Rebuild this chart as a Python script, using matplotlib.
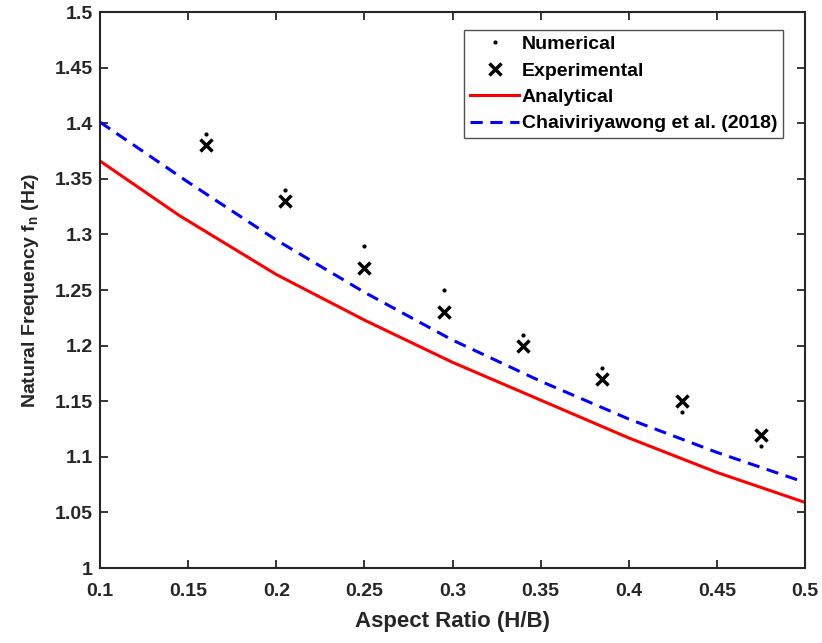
import matplotlib.pyplot as plt

plt.rcParams['font.family'] = ['Liberation Sans', 'DejaVu Sans']
plt.rcParams['font.weight'] = 'bold'
plt.rcParams['mathtext.default'] = 'regular'

# aspect ratios of the test points
ratio = [0.16, 0.205, 0.25, 0.295, 0.34, 0.385, 0.43, 0.475]
numerical = [1.39, 1.34, 1.29, 1.25, 1.21, 1.18, 1.14, 1.11]
experimental = [1.38, 1.33, 1.27, 1.23, 1.20, 1.17, 1.15, 1.12]

# analytical curve
ana_x = [0.1, 0.145, 0.2, 0.25, 0.3, 0.35, 0.4, 0.45, 0.5]
ana_y = [1.366, 1.317, 1.264, 1.223, 1.185, 1.151, 1.117, 1.086, 1.059]

# Chaiviriyawong et al. (2018)
ch_x = [0.1, 0.15, 0.2, 0.25, 0.3, 0.35, 0.4, 0.45, 0.5]
ch_y = [1.401, 1.347, 1.295, 1.248, 1.205, 1.168, 1.134, 1.104, 1.077]

dark = '#262626'

fig = plt.figure(figsize=(8.22, 6.43), dpi=100)
ax = fig.add_axes([0.1217, 0.1166, 0.8576, 0.8647])

ax.plot(ratio, numerical, '.', color='k', ms=4, label='Numerical')
ax.plot(ratio, experimental, 'x', color='k', ms=8, mew=2.5, label='Experimental')
ax.plot(ana_x, ana_y, '-', color='#ff0000', lw=2.2, label='Analytical')
ax.plot(ch_x, ch_y, '--', color='#0000ff', lw=2.2, dashes=(4, 2.5),
        label='Chaiviriyawong et al. (2018)')

ax.set_xlim(0.1, 0.5)
ax.set_ylim(1.0, 1.5)
ax.set_xticks([0.1, 0.15, 0.2, 0.25, 0.3, 0.35, 0.4, 0.45, 0.5])
ax.set_xticklabels(['0.1', '0.15', '0.2', '0.25', '0.3', '0.35', '0.4', '0.45', '0.5'])
ax.set_yticks([1.0, 1.05, 1.1, 1.15, 1.2, 1.25, 1.3, 1.35, 1.4, 1.45, 1.5])
ax.set_yticklabels(['1', '1.05', '1.1', '1.15', '1.2', '1.25', '1.3', '1.35', '1.4', '1.45', '1.5'])

ax.tick_params(direction='in', length=6, width=1.3, colors=dark, labelsize=14,
               top=True, right=True)
ax.tick_params(axis='x', pad=11)
ax.tick_params(axis='y', pad=5)
for s in ax.spines.values():
    s.set_linewidth(1.5)
    s.set_color(dark)

ax.set_xlabel('Aspect Ratio (H/B)', fontsize=16, fontweight='bold', color=dark, labelpad=8)
ax.set_ylabel('Natural Frequency f$_\\mathregular{n}$ (Hz)', fontsize=14,
              fontweight='bold', color=dark, labelpad=10)

leg = ax.legend(loc='upper right', fontsize=14, handlelength=2.5, handletextpad=0.15,
                fancybox=False, edgecolor=dark, borderpad=0.3, labelspacing=0.45,
                borderaxespad=0, bbox_to_anchor=(0.969, 0.968))
leg.get_frame().set_linewidth(1.0)

fig.savefig('out.png', dpi=100)
